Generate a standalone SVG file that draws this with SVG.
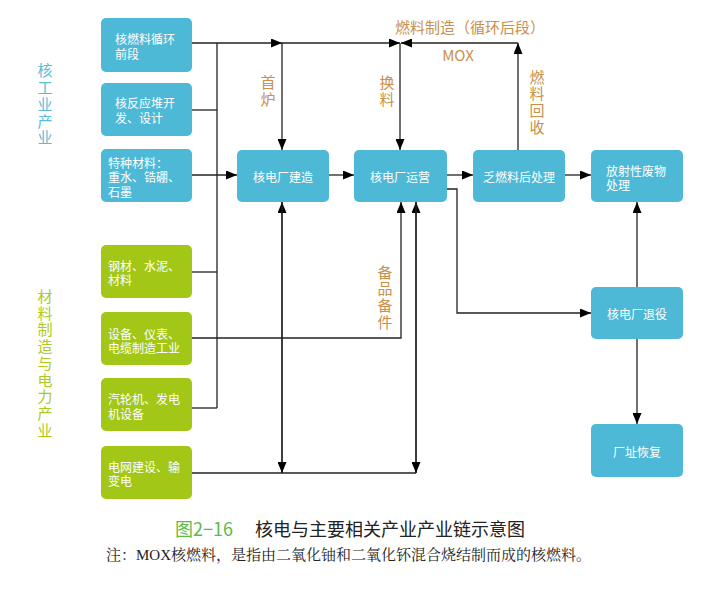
<svg xmlns="http://www.w3.org/2000/svg" width="718" height="596" viewBox="0 0 718 596">
<style>
.b{fill:#4DB9D6}
.g{fill:#A3C717}
.t{font-family:"Noto Sans CJK SC","Noto Sans",sans-serif;font-size:12px;fill:#fff}
.c{text-anchor:middle;dominant-baseline:central}
.l{font-family:"Noto Sans CJK SC","Noto Sans",sans-serif;font-size:15px;fill:#C8904A;text-anchor:middle;dominant-baseline:central}
.v{font-family:"Noto Sans CJK SC","Noto Sans",sans-serif;font-size:15px;fill:#C8904A;text-anchor:middle;writing-mode:vertical-rl;letter-spacing:1.7px}
.ln{fill:none;stroke:#222;stroke-width:1.3}
</style>
<defs>
<marker id="a" markerUnits="userSpaceOnUse" markerWidth="11" markerHeight="9" refX="11" refY="4.5" orient="auto"><path d="M0,0 L11,4.5 L0,9 z" fill="#000"/></marker>
</defs>
<text class="v" style="fill:#5BBCD8" x="45" y="105">核工业产业</text>
<text class="v" style="fill:#AACB1E" x="45" y="364">材料制造与电力产业</text>
<g id="connectors">
<path class="ln" d="M192,43 H282" marker-end="url(#a)"/>
<path class="ln" d="M282,43 H400" marker-end="url(#a)"/>
<path class="ln" d="M518,150 V43" marker-end="url(#a)"/>
<path class="ln" d="M518,43 H401" marker-end="url(#a)"/>
<path class="ln" d="M282,43 V150" marker-end="url(#a)"/>
<path class="ln" d="M400,43 V150" marker-end="url(#a)"/>
<path class="ln" d="M217,43 V408"/>
<path class="ln" d="M192,110 H217"/>
<path class="ln" d="M192,272 H217"/>
<path class="ln" d="M192,408 H217"/>
<path class="ln" d="M192,175 H237" marker-end="url(#a)"/>
<path class="ln" d="M192,338 H401 V202" marker-end="url(#a)"/>
<path class="ln" d="M329,175 H354" marker-end="url(#a)"/>
<path class="ln" d="M447,175 H473" marker-end="url(#a)"/>
<path class="ln" d="M565,175 H591" marker-end="url(#a)"/>
<path class="ln" d="M447,189 H457 V313 H591" marker-end="url(#a)"/>
<path class="ln" d="M637,287 V202" marker-end="url(#a)"/>
<path class="ln" d="M637,339 V424" marker-end="url(#a)"/>
<path class="ln" d="M192,473 H416"/>
<path class="ln" d="M282,473 V202" marker-end="url(#a)"/>
<path class="ln" d="M282,202 V473" marker-end="url(#a)"/>
<path class="ln" d="M416,473 V202" marker-end="url(#a)"/>
<path class="ln" d="M416,202 V473" marker-end="url(#a)"/>
</g>
<g id="labels">
<text class="l" x="470" y="26">燃料制造（循环后段）</text>
<text class="l" x="458" y="54">MOX</text>
<text class="v" x="268" y="92">首炉</text>
<text class="v" x="387" y="92">换料</text>
<text class="v" x="537" y="103">燃料回收</text>
<text class="v" x="385" y="298">备品备件</text>
</g>
<g id="n1"><rect class="b" x="101" y="18" width="91" height="54" rx="5"/><text class="t" style="dominant-baseline:central"><tspan x="115" y="38">核燃料循环</tspan><tspan x="115" y="53">前段</tspan></text></g>
<g id="n2"><rect class="b" x="101" y="83" width="91" height="53" rx="5"/><text class="t" style="dominant-baseline:central"><tspan x="115" y="102">核反应堆开</tspan><tspan x="115" y="117">发、设计</tspan></text></g>
<g id="n3"><rect class="b" x="101" y="149" width="91" height="53" rx="5"/><text class="t" style="dominant-baseline:central"><tspan x="108" y="162">特种材料：</tspan><tspan x="108" y="176">重水、锆硼、</tspan><tspan x="108" y="191">石墨</tspan></text></g>
<g id="n4"><rect class="g" x="101" y="245" width="91" height="53" rx="5"/><text class="t" style="dominant-baseline:central"><tspan x="108" y="265">钢材、水泥、</tspan><tspan x="108" y="279">材料</tspan></text></g>
<g id="n5"><rect class="g" x="101" y="312" width="91" height="53" rx="5"/><text class="t" style="dominant-baseline:central"><tspan x="108" y="333">设备、仪表、</tspan><tspan x="108" y="347">电缆制造工业</tspan></text></g>
<g id="n6"><rect class="g" x="101" y="378" width="91" height="53" rx="5"/><text class="t" style="dominant-baseline:central"><tspan x="108" y="398">汽轮机、发电</tspan><tspan x="108" y="413">机设备</tspan></text></g>
<g id="n7"><rect class="g" x="101" y="446" width="91" height="53" rx="5"/><text class="t" style="dominant-baseline:central"><tspan x="108" y="466">电网建设、输</tspan><tspan x="108" y="480">变电</tspan></text></g>
<g id="n8"><rect class="b" x="237" y="150" width="92" height="52" rx="5"/><text class="t c" x="283" y="176">核电厂建造</text></g>
<g id="n9"><rect class="b" x="354" y="150" width="93" height="52" rx="5"/><text class="t c" x="400" y="176">核电厂运营</text></g>
<g id="n10"><rect class="b" x="473" y="150" width="92" height="52" rx="5"/><text class="t c" x="519" y="176">乏燃料后处理</text></g>
<g id="n11"><rect class="b" x="591" y="150" width="92" height="52" rx="5"/><text class="t" style="dominant-baseline:central"><tspan x="606" y="170">放射性废物</tspan><tspan x="606" y="184">处理</tspan></text></g>
<g id="n12"><rect class="b" x="591" y="287" width="92" height="52" rx="5"/><text class="t c" x="637" y="313">核电厂退役</text></g>
<g id="n13"><rect class="b" x="591" y="424" width="92" height="53" rx="5"/><text class="t c" x="637" y="451">厂址恢复</text></g>
<g id="caption">
<text x="175" y="528" style="font-family:'Noto Sans CJK SC',sans-serif;font-size:18px;dominant-baseline:central"><tspan fill="#5DBB4A">图2−16</tspan><tspan fill="#222" x="255">核电与主要相关产业产业链示意图</tspan></text>
<text x="106" y="555" style="font-family:'Liberation Serif','Noto Serif CJK SC','Noto Sans CJK SC',serif;font-size:15px;fill:#222;dominant-baseline:central">注：MOX核燃料，是指由二氧化铀和二氧化钚混合烧结制而成的核燃料。</text>
</g>
</svg>
